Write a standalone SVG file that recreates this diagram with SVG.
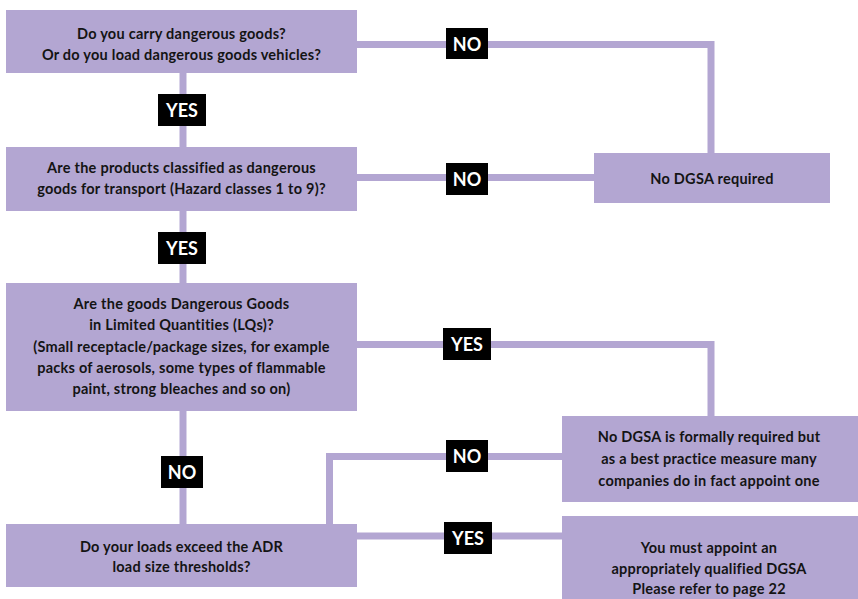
<svg xmlns="http://www.w3.org/2000/svg" width="858" height="599" viewBox="0 0 858 599">
<style>
.box{fill:#b3a6d2}
.t{font-family:Lato,"Open Sans","Liberation Sans",sans-serif;font-weight:bold;font-size:14.5px;letter-spacing:0.25px;fill:#141414;text-anchor:middle}
.lb{fill:#000}
.lt{font-family:Lato,"Open Sans","Liberation Sans",sans-serif;font-weight:bold;font-size:18px;fill:#fff;text-anchor:middle}
.c{fill:none;stroke:#b3a6d2;stroke-width:7;stroke-linejoin:miter}
</style>
<rect width="858" height="599" fill="#fff"/>
<g id="connectors">
<path class="c" d="M183 73V147"/>
<path class="c" d="M183 211V283"/>
<path class="c" d="M183 411V524"/>
<path class="c" d="M357 44.5H711V153"/>
<path class="c" d="M357 177.5H594"/>
<path class="c" d="M357 344.5H711V416"/>
<path class="c" d="M329.5 524V456.5H562"/>
<path class="c" d="M357 536H562"/>
<g id="lbl-yes1"><rect class="lb" x="158" y="94" width="48" height="32"/><text class="lt" x="182" y="117">YES</text></g>
<g id="lbl-yes2"><rect class="lb" x="158" y="232" width="48" height="32"/><text class="lt" x="182" y="255">YES</text></g>
<g id="lbl-no3"><rect class="lb" x="161" y="456" width="42" height="32"/><text class="lt" x="182" y="479">NO</text></g>
<g id="lbl-no1"><rect class="lb" x="446" y="28" width="42" height="31"/><text class="lt" x="467" y="50.5">NO</text></g>
<g id="lbl-no2"><rect class="lb" x="446" y="163" width="42" height="32"/><text class="lt" x="467" y="186">NO</text></g>
<g id="lbl-yes3"><rect class="lb" x="443" y="328" width="48" height="32"/><text class="lt" x="467" y="351">YES</text></g>
<g id="lbl-no4"><rect class="lb" x="446" y="440" width="42" height="32"/><text class="lt" x="467" y="463">NO</text></g>
<g id="lbl-yes4"><rect class="lb" x="444" y="522" width="48" height="32"/><text class="lt" x="468" y="545">YES</text></g>
</g>
<g id="q1"><rect class="box" x="6" y="10" width="351" height="63"/>
<text class="t" x="181.5" y="39">Do you carry dangerous goods?</text>
<text class="t" x="181.5" y="60">Or do you load dangerous goods vehicles?</text></g>
<g id="q2"><rect class="box" x="6" y="147" width="351" height="64"/>
<text class="t" x="181.5" y="173">Are the products classified as dangerous</text>
<text class="t" x="181.5" y="194">goods for transport (Hazard classes 1 to 9)?</text></g>
<g id="q3"><rect class="box" x="6" y="283" width="351" height="128"/>
<text class="t" x="181.5" y="309">Are the goods Dangerous Goods</text>
<text class="t" x="181.5" y="330">in Limited Quantities (LQs)?</text>
<text class="t" x="181.5" y="352">(Small receptacle/package sizes, for example</text>
<text class="t" x="181.5" y="373">packs of aerosols, some types of flammable</text>
<text class="t" x="181.5" y="394">paint, strong bleaches and so on)</text></g>
<g id="q4"><rect class="box" x="6" y="524" width="351" height="63"/>
<text class="t" x="181.5" y="552">Do your loads exceed the ADR</text>
<text class="t" x="181.5" y="572">load size thresholds?</text></g>
<g id="r1"><rect class="box" x="594" y="153" width="236" height="50"/>
<text class="t" x="712" y="184">No DGSA required</text></g>
<g id="r2"><rect class="box" x="562" y="416" width="296" height="86"/>
<text class="t" x="709" y="442">No DGSA is formally required but</text>
<text class="t" x="709" y="464">as a best practice measure many</text>
<text class="t" x="709" y="486">companies do in fact appoint one</text></g>
<g id="r3"><rect class="box" x="562" y="516" width="296" height="83"/>
<text class="t" x="709" y="553">You must appoint an</text>
<text class="t" x="709" y="574">appropriately qualified DGSA</text>
<text class="t" x="709" y="594">Please refer to page 22</text></g>
</svg>
